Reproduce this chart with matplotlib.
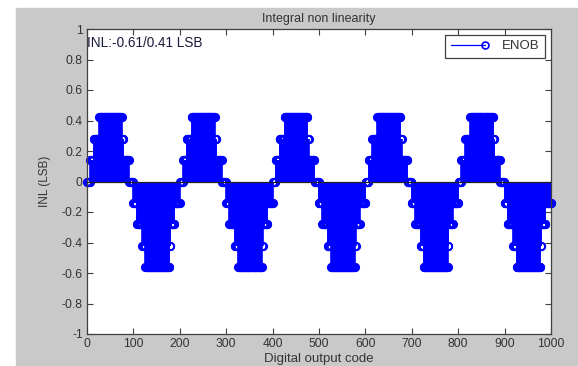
import numpy as np
import matplotlib
matplotlib.use('Agg')
import matplotlib.pyplot as plt
from matplotlib.lines import Line2D
from matplotlib.patches import Rectangle
from matplotlib.legend_handler import HandlerLine2D

plt.rcParams['font.family'] = ['Liberation Sans', 'DejaVu Sans']

# ── Data ──────────────────────────────────────────────
# one 200-code period of the INL staircase, as runs of (level, length)
RUN_LEVELS  = [0.0, 0.14, 0.28, 0.42, 0.28, 0.14, 0.0,
               -0.14, -0.28, -0.42, -0.56, -0.42, -0.28, -0.14]
RUN_LENGTHS = [6, 8, 11, 50, 3, 12, 9,
               7, 12, 7, 52, 2, 9, 12]
N_PERIODS   = 5            # same period repeats over codes 1..1000

XTICKS = [0, 100, 200, 300, 400, 500, 600, 700, 800, 900, 1000]
YTICKS = [-1, -0.8, -0.6, -0.4, -0.2, 0, 0.2, 0.4, 0.6, 0.8, 1]
YTICK_LABELS = ['-1', '-0.8', '-0.6', '-0.4', '-0.2', '0',
                '0.2', '0.4', '0.6', '0.8', '1']
ANNOT = 'INL:-0.61/0.41 LSB'

period = np.repeat(RUN_LEVELS, RUN_LENGTHS)
inl = np.tile(period, N_PERIODS)
codes = np.arange(1, len(inl) + 1)

# ── Figure ────────────────────────────────────────────
BLUE = '#0000ff'
TXT  = '#333333'

fig = plt.figure(figsize=(5.78, 3.66), dpi=100, facecolor='white')
bg = Rectangle((16 / 578, 0), 1, (366 - 8) / 366, transform=fig.transFigure,
               color='#c9c9c9', zorder=-10)
fig.add_artist(bg)
ax = fig.add_axes([87 / 578, 32 / 366, (551 - 87) / 578, (334 - 29) / 366])
ax.set_zorder(1)

mk, st, bl = ax.stem(codes, inl, linefmt='-', markerfmt='o', basefmt=' ')
st.set_color(BLUE)
st.set_linewidth(1.2)
mk.set_color(BLUE)
mk.set_markerfacecolor('none')
mk.set_markersize(5.3)
mk.set_markeredgewidth(1.3)
mk.set_clip_on(False)
ax.axhline(0, color='#202020', lw=0.9, zorder=3)

ax.set_xlim(0, 1000)
ax.set_ylim(-1, 1)
ax.set_xticks(XTICKS)
ax.set_xticklabels([str(t) for t in XTICKS])
ax.set_yticks(YTICKS)
ax.set_yticklabels(YTICK_LABELS)
ax.tick_params(direction='in', length=4, width=0.8, top=True, right=True,
               labelsize=8.7, labelcolor=TXT, colors='#404040', pad=3)
for sp in ax.spines.values():
    sp.set_color('#404040')
    sp.set_linewidth(0.9)

ax.set_title('Integral non linearity', fontsize=9, color=TXT, pad=5)
ax.set_xlabel('Digital output code', fontsize=9.5, color=TXT, labelpad=2)
ax.set_ylabel('INL (LSB)', fontsize=8.5, color=TXT, labelpad=8)

ax.text(1, 0.905, ANNOT, fontsize=9.8, color='#1a1a3a', ha='left', va='center')


class StemHandler(HandlerLine2D):
    def create_artists(self, *args, **kw):
        arts = super().create_artists(*args, **kw)
        arts[0].set_markevery([2])
        return arts


h = Line2D([], [], color=BLUE, lw=0.9, marker='o', mfc='none',
           mec=BLUE, ms=5.0, mew=1.2)
leg = ax.legend([h], ['ENOB'], loc='upper right', fontsize=9.5,
                fancybox=False, framealpha=1, edgecolor='#404040',
                handlelength=2.6, handletextpad=1.3, borderpad=0.4,
                borderaxespad=0.45, numpoints=1,
                handler_map={Line2D: StemHandler()})
leg.get_frame().set_linewidth(0.9)
for t in leg.get_texts():
    t.set_color(TXT)

plt.savefig('out.png', dpi=100)
plt.close()
